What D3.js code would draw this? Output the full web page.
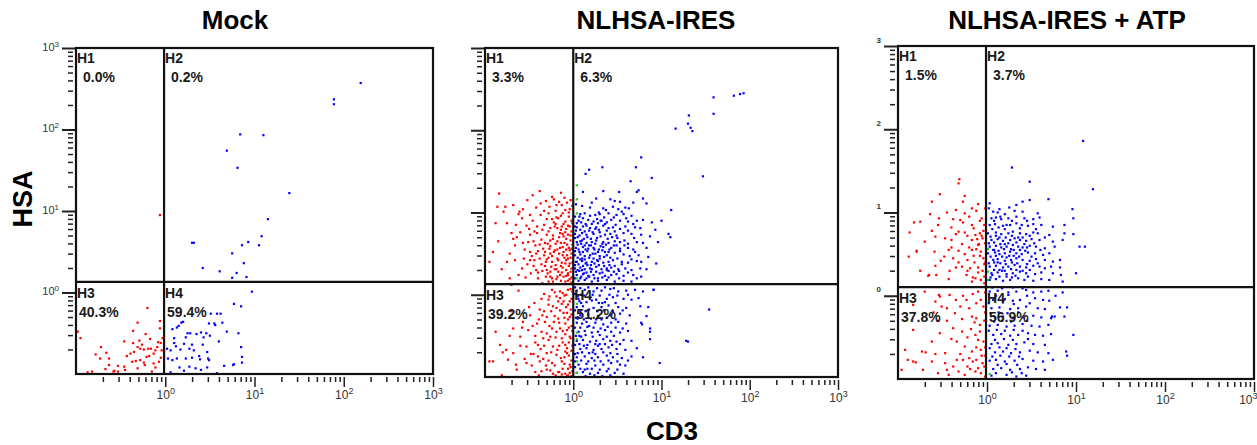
<!DOCTYPE html>
<html>
<head>
<meta charset="utf-8">
<script src="https://cdn.jsdelivr.net/npm/d3@7"></script>
<style>
body{margin:0;background:#fff;}
text{font-family:"Liberation Sans",Arial,sans-serif;}
</style>
</head>
<body>
<div id="chart"></div>
<script>
//Titles, quadrant names and percentages
var titles = ["Mock","NLHSA-IRES","NLHSA-IRES + ATP"];
var quadNames = ["H1","H2","H3","H4"];
var quadPct = [["0.0%","0.2%","40.3%","59.4%"],["3.3%","6.3%","39.2%","51.2%"],["1.5%","3.7%","37.8%","56.9%"]];

//Gate positions (CD3, HSA)
var gateCD3 = [0.97,1.0,0.975];
var gateHSA = [1.35,1.35,1.27];

//Tick labels (y labels of the 2nd and 3rd plot are cropped in the source)
var xTickExp = ["0","1","2","3"];
var yTickText = [["10","3","10","2","10","1","10","0"],[],["","3","","2","","1","","0"]];

//Events as [log10 CD3, log10 HSA]
var mockRed = [[-0.98,-0.48],[-0.95,-0.56],[-0.31,-0.37],[-0.22,-0.51],[-0.06,-0.35],[-0.06,-0.44],[-0.46,-0.60],[-0.36,-0.62],[-0.29,-0.59],[-0.17,-0.57],[-0.31,-0.67],[-0.28,-0.69],[-0.24,-0.70],[-0.19,-0.69],[-0.16,-0.69],[-0.11,-0.71],[-0.09,-0.67],[-0.05,-0.62],[-0.13,-0.75],[-0.18,-0.78],[-0.39,-0.75],[-0.43,-0.78],[-0.73,-0.81],[-0.66,-0.74],[-0.33,-0.84],[-0.28,-0.83],[-0.24,-0.86],[-0.31,-0.93],[-0.63,-0.89],[-0.67,-0.94],[-0.57,-0.96],[-0.53,-0.97],[-0.45,-0.95],[-0.82,-0.97],[-0.87,-0.98],[-0.15,-0.97],[-0.11,-0.92],[-0.07,-0.85],[-0.05,-0.80],[-0.04,-0.71],[-0.03,-0.56],[-0.37,-0.85],[-0.35,-0.73],[-0.20,-0.19],[-0.36,-0.47],[-0.72,-0.67],[-0.78,-0.76],[-0.63,-0.81],[-0.53,-0.90],[-0.58,-0.97],[-0.46,-0.91],[-0.23,-0.89],[-0.13,-0.87],[-0.08,-0.61],[-0.21,-0.79],[-0.26,-0.64],[-0.06,0.95]];
var mockBlue = [[2.19,2.57],[1.89,2.37],[1.89,2.31],[0.84,1.94],[1.10,1.93],[0.69,1.74],[0.81,1.53],[1.39,1.22],[1.15,0.90],[0.30,0.61],[0.32,0.61],[0.86,0.58],[0.93,0.62],[1.08,0.69],[1.05,0.58],[0.75,0.48],[0.88,0.36],[0.42,0.30],[0.61,0.26],[0.80,0.24],[0.75,0.18],[0.91,0.19],
  [0.97,0.01],[0.77,-0.14],[0.85,-0.17],[0.51,-0.26],[0.58,-0.26],[0.62,-0.26],[0.18,-0.37],[0.49,-0.38],[0.55,-0.38],[0.08,-0.45],[0.13,-0.43],[0.25,-0.50],[0.28,-0.50],[0.40,-0.49],[0.46,-0.50],[0.69,-0.48],[0.82,-0.50],[0.10,-0.56],[0.23,-0.55],[0.43,-0.55],[0.50,-0.53],[0.10,-0.62],[0.21,-0.63],[0.30,-0.64],[0.42,-0.64],[0.02,-0.69],[0.06,-0.71],[0.17,-0.70],[0.27,-0.69],[0.32,-0.71],[0.47,-0.73],[0.85,-0.67],[0.03,-0.81],[0.08,-0.83],[0.13,-0.81],[0.23,-0.81],[0.30,-0.80],[0.39,-0.82],[0.49,-0.83],[0.86,-0.79],[0.86,-0.86],[0.16,-0.92],[0.27,-0.91],[0.34,-0.93],[0.40,-0.95],[0.47,-0.92],[0.77,-0.88],[0.06,-0.98],[0.58,-0.99],[0.15,-0.41],[0.20,-0.36],[0.35,-0.51],[0.56,-0.40],[0.64,-0.37],[0.12,-0.66],[0.38,-0.78],[0.48,-0.81],[0.66,-0.90],[0.76,-0.89],[0.21,-0.96],[0.60,-0.60]];

var iresRed = [[-0.84,1.23],[-0.46,1.21],[-0.38,1.26],[-0.14,1.24],[-0.68,1.09],[-0.77,1.07],[-0.86,1.07],[-0.57,1.04],[-0.37,1.11],[-0.31,1.14],[-0.22,1.16],[-0.19,1.09],[-0.13,1.09],[-0.09,1.03],[-0.79,1.01],[-0.61,1.01],[-0.49,0.97],[-0.28,0.99],[-0.24,0.92],[-0.17,0.93],[-0.09,0.89],[-0.05,0.95],[-0.88,0.87],[-0.75,0.87],[-0.65,0.85],[-0.41,0.83],[-0.26,0.81],[-0.21,0.83],[-0.18,0.81],[-0.13,0.83],[-0.08,0.80],[-0.04,0.83],[-0.70,0.75],[-0.60,0.76],[-0.49,0.73],[-0.41,0.75],[-0.30,0.73],[-0.23,0.72],[-0.15,0.75],[-0.11,0.71],[-0.06,0.73],[-0.68,0.68],[-0.57,0.63],[-0.45,0.65],[-0.38,0.61],[-0.32,0.63],[-0.26,0.59],[-0.20,0.62],[-0.12,0.58],[-0.07,0.61],[-0.91,0.52],[-0.72,0.50],[-0.49,0.52],[-0.42,0.50],[-0.32,0.52],[-0.26,0.50],[-0.22,0.52],[-0.16,0.50],[-0.11,0.52],[-0.07,0.48],[-0.04,0.54],[-0.66,0.42],[-0.49,0.42],[-0.38,0.44],[-0.30,0.43],[-0.24,0.40],[-0.17,0.42],[-0.13,0.39],[-0.08,0.42],[-0.04,0.38],[-0.95,0.40],[-0.81,0.31],[-0.58,0.32],[-0.42,0.30],[-0.40,0.27],[-0.30,0.30],[-0.26,0.28],[-0.21,0.31],[-0.17,0.28],[-0.08,0.30],[-0.06,0.24],[-0.72,0.20],[-0.54,0.21],[-0.40,0.20],[-0.26,0.22],[-0.19,0.19],[-0.11,0.22],[-0.04,0.19],
  [-0.24,0.06],[-0.15,0.04],[-0.08,0.00],[-0.19,-0.02],[-0.28,-0.06],[-0.11,-0.08],[-0.06,-0.12],[-0.23,-0.14],[-0.38,-0.18],[-0.15,-0.19],[-0.07,-0.22],[-0.49,-0.25],[-0.30,-0.27],[-0.21,-0.26],[-0.04,-0.27],[-0.57,-0.33],[-0.41,-0.35],[-0.32,-0.33],[-0.16,-0.34],[-0.09,-0.35],[-0.68,-0.41],[-0.51,-0.43],[-0.24,-0.41],[-0.19,-0.45],[-0.07,-0.43],[-0.60,-0.51],[-0.43,-0.50],[-0.34,-0.53],[-0.26,-0.51],[-0.13,-0.53],[-0.04,-0.51],[-0.83,-0.61],[-0.53,-0.63],[-0.40,-0.61],[-0.23,-0.63],[-0.09,-0.61],[-0.68,-0.71],[-0.45,-0.72],[-0.30,-0.71],[-0.19,-0.73],[-0.07,-0.71],[-0.95,-0.81],[-0.91,-0.81],[-0.53,-0.83],[-0.38,-0.81],[-0.24,-0.83],[-0.13,-0.81],[-0.04,-0.85],[-0.64,-0.91],[-0.43,-0.94],[-0.30,-0.91],[-0.17,-0.94],[-0.09,-0.96],[-0.06,-0.98],[-0.81,-0.98],[-0.74,-0.79],[-0.76,-0.67],
  [-0.03,1.15],[-0.10,1.18],[-0.20,1.02],[-0.27,1.07],[-0.05,1.00],[-0.14,0.96],[-0.02,0.90],[-0.11,0.86],[-0.22,0.88],[-0.33,0.85],[-0.02,0.77],[-0.09,0.76],[-0.16,0.70],[-0.26,0.66],[-0.03,0.66],[-0.14,0.63],[-0.34,0.56],[-0.02,0.56],[-0.08,0.55],[-0.18,0.55],[-0.28,0.45],[-0.03,0.45],[-0.10,0.45],[-0.20,0.36],[-0.12,0.33],[-0.02,0.32],[-0.32,0.35],[-0.06,0.26],[-0.15,0.24],[-0.23,0.16],[-0.02,0.15],[-0.09,0.16],[-0.35,0.14],[-0.45,0.35],[-0.55,0.55],[-0.50,0.80],[-0.62,0.24],
  [-0.03,0.07],[-0.12,0.02],[-0.33,0.01],[-0.02,-0.05],[-0.17,-0.08],[-0.25,-0.20],[-0.03,-0.18],[-0.10,-0.28],[-0.35,-0.25],[-0.02,-0.38],[-0.12,-0.44],[-0.30,-0.47],[-0.05,-0.58],[-0.16,-0.62],[-0.37,-0.66],[-0.02,-0.68],[-0.10,-0.76],[-0.28,-0.80],[-0.03,-0.88],[-0.12,-0.90],[-0.20,-0.98],[-0.04,-0.95],[-0.48,-0.72],[-0.58,-0.40],[-0.44,-0.10],[-0.70,-0.20],[-0.80,-0.70],[-0.36,-0.93],[-0.02,-0.99],
  [-0.01,1.08],[-0.07,1.12],[-0.16,1.13],[-0.24,1.19],[-0.33,1.02],[-0.42,1.06],[-0.52,1.15],[-0.04,1.04],[-0.12,0.99],[-0.19,0.94],[-0.30,0.92],[-0.37,0.97],[-0.46,0.90],[-0.58,0.93],[-0.01,0.87],[-0.06,0.84],[-0.14,0.79],[-0.20,0.86],[-0.28,0.77],[-0.35,0.79],[-0.44,0.77],[-0.53,0.84],[-0.64,0.70],[-0.03,0.72],[-0.08,0.68],[-0.12,0.74],[-0.18,0.65],[-0.23,0.68],[-0.29,0.62],[-0.36,0.67],[-0.43,0.60],[-0.51,0.64],[-0.01,0.61],[-0.05,0.57],[-0.10,0.63],[-0.15,0.57],[-0.21,0.54],[-0.27,0.56],[-0.33,0.48],[-0.40,0.53],[-0.47,0.47],[-0.56,0.44],[-0.02,0.50],[-0.06,0.44],[-0.12,0.48],[-0.18,0.44],[-0.24,0.47],[-0.31,0.40],[-0.36,0.37],[-0.44,0.42],[-0.52,0.37],[-0.01,0.39],[-0.05,0.35],[-0.09,0.38],[-0.14,0.35],[-0.19,0.31],[-0.25,0.34],[-0.29,0.26],[-0.35,0.29],[-0.48,0.26],[-0.03,0.28],[-0.08,0.23],[-0.13,0.27],[-0.18,0.22],[-0.24,0.20],[-0.31,0.22],[-0.02,0.21],[-0.06,0.17],[-0.14,0.17],[-0.28,0.16],[-0.66,0.60],[-0.75,0.40],[-0.85,0.65],[-0.62,0.98],[-0.70,0.12],
  [-0.01,0.04],[-0.06,0.06],[-0.10,-0.01],[-0.15,-0.04],[-0.21,0.03],[-0.27,-0.02],[-0.36,-0.05],[-0.04,-0.08],[-0.08,-0.15],[-0.13,-0.11],[-0.19,-0.16],[-0.28,-0.12],[-0.33,-0.20],[-0.02,-0.24],[-0.06,-0.30],[-0.11,-0.22],[-0.17,-0.29],[-0.22,-0.33],[-0.27,-0.38],[-0.39,-0.30],[-0.46,-0.38],[-0.01,-0.44],[-0.05,-0.40],[-0.09,-0.48],[-0.15,-0.41],[-0.20,-0.52],[-0.28,-0.55],[-0.36,-0.45],[-0.43,-0.58],[-0.03,-0.53],[-0.07,-0.65],[-0.12,-0.58],[-0.18,-0.67],[-0.25,-0.70],[-0.33,-0.62],[-0.40,-0.75],[-0.55,-0.78],[-0.01,-0.62],[-0.05,-0.74],[-0.09,-0.69],[-0.14,-0.77],[-0.21,-0.86],[-0.26,-0.92],[-0.34,-0.78],[-0.47,-0.86],[-0.02,-0.80],[-0.06,-0.90],[-0.10,-0.84],[-0.16,-0.94],[-0.23,-0.96],[-0.31,-0.86],[-0.39,-0.98],[-0.01,-0.93],[-0.07,-0.99],[-0.13,-0.97],[-0.60,-0.62],[-0.65,-0.85],[-0.72,-0.50],[-0.88,-0.45],[-0.50,-0.15],[-0.62,0.05]];
var iresBlue = [[1.93,2.45],[1.89,2.44],[1.82,2.42],[1.59,2.40],[1.59,2.20],[1.31,2.18],[1.30,2.08],[1.33,2.03],[1.35,1.99],[1.16,2.02],[0.77,1.67],[0.71,1.55],[0.33,1.55],[0.18,1.52],[0.14,1.47],[0.89,1.42],[1.47,1.44],[0.65,1.38],[0.34,1.26],[0.11,1.25],[0.52,1.25],[0.72,1.25],[0.74,1.27],[0.79,1.17],[1.11,1.03],[0.83,1.11],[1.10,0.70],
  [0.26,1.17],[0.42,1.16],[0.47,1.14],[0.53,1.13],[0.68,1.12],[0.19,1.06],[0.34,1.05],[0.45,1.07],[0.51,1.04],[0.59,1.06],[0.63,1.05],[0.08,0.98],[0.13,0.99],[0.25,0.97],[0.30,0.98],[0.40,0.99],[0.49,0.97],[0.57,0.98],[0.66,0.96],
  [0.06,0.90],[0.17,0.91],[0.23,0.89],[0.32,0.90],[0.38,0.88],[0.43,0.91],[0.53,0.90],[0.62,0.89],[0.72,0.90],[0.79,0.91],[0.89,0.88],[1.00,0.90],
  [0.04,0.82],[0.11,0.83],[0.19,0.81],[0.26,0.82],[0.34,0.84],[0.40,0.81],[0.45,0.82],[0.53,0.80],[0.59,0.83],[0.70,0.82],[0.76,0.81],[0.93,0.79],
  [0.02,0.74],[0.10,0.75],[0.15,0.73],[0.23,0.74],[0.30,0.76],[0.36,0.73],[0.42,0.74],[0.49,0.72],[0.57,0.75],[0.66,0.74],[0.77,0.73],[0.87,0.71],[1.08,0.74],
  [0.04,0.64],[0.08,0.65],[0.15,0.63],[0.21,0.64],[0.26,0.66],[0.34,0.64],[0.40,0.63],[0.47,0.65],[0.53,0.64],[0.62,0.62],[0.72,0.64],[0.79,0.63],[0.96,0.64],
  [0.03,0.57],[0.11,0.58],[0.17,0.56],[0.23,0.57],[0.29,0.55],[0.34,0.58],[0.43,0.57],[0.53,0.56],[0.62,0.57],[0.68,0.55],[0.83,0.57],
  [0.02,0.48],[0.08,0.49],[0.13,0.47],[0.19,0.48],[0.25,0.50],[0.30,0.47],[0.38,0.48],[0.57,0.49],[0.64,0.47],[0.74,0.48],[0.85,0.46],
  [0.04,0.40],[0.10,0.41],[0.15,0.39],[0.21,0.40],[0.28,0.41],[0.34,0.39],[0.40,0.40],[0.45,0.42],[0.55,0.40],[0.62,0.39],[0.72,0.41],[0.77,0.40],[0.94,0.38],
  [0.02,0.32],[0.08,0.33],[0.13,0.31],[0.19,0.32],[0.26,0.34],[0.32,0.31],[0.38,0.32],[0.43,0.33],[0.51,0.31],[0.59,0.32],[0.66,0.30],[0.76,0.32],[0.83,0.31],
  [0.04,0.24],[0.11,0.25],[0.17,0.23],[0.23,0.24],[0.30,0.26],[0.36,0.23],[0.43,0.24],[0.49,0.25],[0.57,0.23],[0.68,0.24],[0.77,0.22],
  [0.06,0.17],[0.13,0.18],[0.21,0.16],[0.28,0.17],[0.38,0.18],[0.47,0.16],[0.57,0.17],[0.66,0.16],
  [0.05,0.70],[0.12,0.68],[0.18,0.60],[0.07,0.52],[0.22,0.50],[0.10,0.44],[0.16,0.36],[0.27,0.42],[0.05,0.30],[0.12,0.26],[0.20,0.28],[0.28,0.20],[0.08,0.20],[0.33,0.62],[0.25,0.80],[0.14,0.86],[0.07,0.95],[0.36,0.52],[0.44,0.70],[0.31,0.90],[0.03,0.40],[0.38,0.30],[0.46,0.60],[0.02,0.83],[0.14,0.55],
  [0.03,1.10],[0.10,1.08],[0.21,1.12],[0.29,1.00],[0.37,1.03],[0.55,1.01],[0.02,0.95],[0.11,0.93],[0.19,0.96],[0.27,0.92],[0.35,0.94],[0.46,0.94],[0.60,0.93],[0.04,0.87],[0.09,0.88],[0.15,0.84],[0.21,0.86],[0.28,0.87],[0.36,0.86],[0.48,0.85],[0.68,0.86],[0.03,0.78],[0.08,0.79],[0.13,0.77],[0.18,0.78],[0.22,0.76],[0.29,0.79],[0.38,0.78],[0.47,0.77],[0.62,0.78],[0.02,0.69],[0.07,0.72],[0.10,0.66],[0.16,0.70],[0.20,0.68],[0.27,0.69],[0.31,0.71],[0.39,0.68],[0.50,0.69],[0.58,0.66],[0.69,0.69],[0.05,0.61],[0.09,0.62],[0.13,0.60],[0.20,0.60],[0.25,0.62],[0.31,0.59],[0.37,0.61],[0.41,0.55],[0.49,0.60],[0.58,0.60],[0.02,0.53],[0.06,0.55],[0.11,0.52],[0.16,0.53],[0.24,0.55],[0.28,0.52],[0.33,0.54],[0.40,0.52],[0.47,0.51],[0.53,0.53],[0.70,0.52],[0.05,0.45],[0.08,0.43],[0.13,0.43],[0.18,0.45],[0.23,0.44],[0.30,0.44],[0.35,0.46],[0.42,0.45],[0.50,0.44],[0.66,0.43],[0.02,0.36],[0.06,0.37],[0.11,0.35],[0.14,0.38],[0.20,0.36],[0.24,0.38],[0.29,0.36],[0.35,0.35],[0.41,0.36],[0.47,0.35],[0.55,0.37],[0.03,0.28],[0.07,0.29],[0.10,0.30],[0.15,0.27],[0.21,0.31],[0.26,0.28],[0.33,0.27],[0.40,0.29],[0.46,0.28],[0.52,0.29],[0.62,0.27],[0.02,0.20],[0.09,0.22],[0.15,0.20],[0.18,0.22],[0.24,0.20],[0.33,0.21],[0.40,0.21],[0.52,0.20],[0.72,0.20],
  [0.04,0.05],[0.13,0.06],[0.23,0.04],[0.32,0.05],[0.42,0.07],[0.51,0.04],[0.60,0.05],[0.70,0.06],[0.79,0.04],[0.91,0.06],
  [0.06,-0.05],[0.19,-0.04],[0.26,-0.06],[0.38,-0.05],[0.45,-0.03],[0.57,-0.05],[0.66,-0.06],[0.74,-0.04],
  [0.04,-0.15],[0.11,-0.14],[0.23,-0.16],[0.32,-0.15],[0.40,-0.13],[0.51,-0.15],[0.60,-0.16],[0.76,-0.14],[0.85,-0.15],
  [0.08,-0.25],[0.17,-0.24],[0.28,-0.26],[0.42,-0.25],[0.53,-0.23],[0.64,-0.25],[0.83,-0.26],
  [0.04,-0.34],[0.10,-0.35],[0.15,-0.33],[0.25,-0.34],[0.34,-0.36],[0.43,-0.34],[0.51,-0.33],[0.60,-0.35],[0.77,-0.34],
  [0.06,-0.45],[0.13,-0.44],[0.21,-0.46],[0.28,-0.45],[0.36,-0.43],[0.43,-0.45],[0.53,-0.46],[0.62,-0.44],[0.87,-0.45],
  [0.04,-0.56],[0.11,-0.55],[0.19,-0.57],[0.26,-0.56],[0.34,-0.54],[0.42,-0.56],[0.49,-0.57],[0.57,-0.55],[0.66,-0.56],[0.87,-0.54],[1.28,-0.56],
  [0.08,-0.66],[0.15,-0.65],[0.23,-0.67],[0.32,-0.66],[0.40,-0.64],[0.49,-0.66],[0.59,-0.67],[0.72,-0.65],
  [0.04,-0.76],[0.13,-0.75],[0.21,-0.77],[0.28,-0.76],[0.38,-0.74],[0.45,-0.76],[0.55,-0.77],[0.66,-0.75],[0.79,-0.76],
  [0.06,-0.85],[0.15,-0.84],[0.25,-0.86],[0.34,-0.85],[0.43,-0.83],[0.53,-0.85],[0.59,-0.86],[0.98,-0.83],
  [0.04,-0.95],[0.11,-0.94],[0.19,-0.96],[0.28,-0.95],[0.38,-0.93],[0.47,-0.95],[0.57,-0.96],
  [1.54,-0.18],[1.30,-0.57],[0.91,0.06],[0.78,-0.36],[0.87,-0.41],
  [0.05,-0.02],[0.09,-0.10],[0.14,-0.20],[0.03,-0.28],[0.18,-0.38],[0.07,-0.50],[0.12,-0.62],[0.22,-0.70],[0.02,-0.72],[0.16,-0.90],[0.30,-0.60],[0.26,-0.30],[0.09,0.00],[0.33,-0.10],[0.02,-0.88],
  [0.02,0.09],[0.08,0.08],[0.17,0.09],[0.27,0.08],[0.36,0.09],[0.46,0.08],[0.02,0.01],[0.12,-0.01],[0.22,0.00],[0.30,-0.01],[0.41,0.00],[0.50,-0.01],[0.62,0.00],[0.07,-0.08],[0.15,-0.09],[0.21,-0.07],[0.29,-0.10],[0.36,-0.09],[0.48,-0.10],[0.02,-0.19],[0.08,-0.20],[0.18,-0.18],[0.27,-0.20],[0.35,-0.19],[0.45,-0.20],[0.56,-0.19],[0.05,-0.29],[0.12,-0.30],[0.20,-0.29],[0.32,-0.30],[0.38,-0.28],[0.48,-0.30],[0.02,-0.40],[0.08,-0.40],[0.16,-0.39],[0.23,-0.40],[0.31,-0.41],[0.39,-0.39],[0.48,-0.40],[0.56,-0.41],[0.03,-0.50],[0.09,-0.51],[0.14,-0.49],[0.22,-0.51],[0.30,-0.49],[0.38,-0.51],[0.46,-0.50],[0.02,-0.61],[0.07,-0.60],[0.16,-0.61],[0.25,-0.60],[0.28,-0.62],[0.36,-0.60],[0.44,-0.61],[0.53,-0.60],[0.05,-0.71],[0.10,-0.70],[0.18,-0.71],[0.25,-0.72],[0.34,-0.70],[0.42,-0.71],[0.50,-0.72],[0.02,-0.81],[0.09,-0.80],[0.17,-0.81],[0.24,-0.80],[0.31,-0.81],[0.40,-0.80],[0.50,-0.81],[0.62,-0.80],[0.08,-0.90],[0.13,-0.91],[0.21,-0.90],[0.30,-0.91],[0.40,-0.90],[0.50,-0.91],[0.14,-0.99],[0.24,-0.98],[0.33,-0.99],[0.42,-0.98]];
var iresGreen = [[0.04,1.33],[0.04,1.16],[0.04,0.99],[0.04,0.20],[0.04,-0.11],[0.04,-0.46],[0.04,-0.54],[0.04,-0.81],[0.04,-0.95]];

var atpRed = [[-0.31,1.40],[-0.32,1.35],[-0.53,1.22],[-0.27,1.13],[-0.62,1.13],[-0.17,1.05],[-0.35,1.03],[-0.64,0.98],[-0.25,0.99],[-0.06,0.93],[-0.38,0.92],[-0.30,0.91],[-0.54,0.93],[-0.75,0.89],[-0.82,0.88],[-0.55,0.85],[-0.87,0.76],[-0.32,0.77],[-0.25,0.76],[-0.15,0.81],[-0.13,0.73],[-0.08,0.75],[-0.58,0.71],[-0.47,0.69],[-0.70,0.65],[-0.40,0.67],[-0.17,0.67],[-0.05,0.69],[-0.10,0.61],[-0.79,0.54],[-0.59,0.53],[-0.43,0.55],[-0.32,0.54],[-0.12,0.56],[-0.07,0.53],[-0.88,0.47],[-0.48,0.47],[-0.38,0.45],[-0.22,0.43],[-0.04,0.45],[-0.58,0.36],[-0.35,0.34],[-0.19,0.33],[-0.10,0.34],[-0.66,0.24],[-0.57,0.25],[-0.43,0.20],[-0.23,0.25],[-0.13,0.21],[-0.07,0.19],[-0.17,0.17],
  [-0.53,-0.01],[-0.42,0.01],[-0.27,0.00],[-0.58,-0.07],[-0.51,-0.13],[-0.30,-0.13],[-0.23,-0.05],[-0.12,-0.09],[-0.04,-0.13],[-0.36,-0.21],[-0.17,-0.25],[-0.83,-0.41],[-0.38,-0.39],[-0.28,-0.43],[-0.53,-0.45],[-0.13,-0.47],[-0.10,-0.53],[-0.62,-0.55],[-0.34,-0.55],[-0.25,-0.61],[-0.92,-0.65],[-0.73,-0.67],[-0.69,-0.68],[-0.47,-0.69],[-0.17,-0.67],[-0.07,-0.65],[-0.89,-0.77],[-0.83,-0.79],[-0.62,-0.79],[-0.47,-0.81],[-0.34,-0.77],[-0.27,-0.77],[-0.16,-0.79],[-0.12,-0.77],[-0.05,-0.81],[-0.96,-0.89],[-0.72,-0.89],[-0.45,-0.89],[-0.32,-0.91],[-0.19,-0.88],[-0.13,-0.91],[-0.07,-0.93],[-0.43,-0.95],
  [-0.79,0.53],[-0.65,0.25],[-0.54,0.01],[-0.83,-0.11],[-0.12,-0.27],
  [-0.03,0.85],[-0.09,0.62],[-0.02,0.40],[-0.15,0.48],[-0.05,0.30],[-0.20,0.58],[-0.03,0.15],[-0.10,0.05],[-0.02,-0.20],[-0.08,-0.35],[-0.18,-0.40],[-0.04,-0.55],[-0.22,-0.85],[-0.02,-0.72],[-0.40,0.82],[-0.45,-0.30],[-0.60,-0.20],[-0.70,0.05],[-0.25,1.20],[-0.12,1.02],[-0.06,0.72],[-0.28,0.35],
  [-0.02,1.05],[-0.10,1.10],[-0.20,0.95],[-0.45,1.00],[-0.08,0.90],[-0.27,0.88],[-0.17,0.85],[-0.04,0.78],[-0.22,0.72],[-0.35,0.74],[-0.62,0.78],[-0.11,0.68],[-0.28,0.62],[-0.02,0.63],[-0.17,0.55],[-0.40,0.58],[-0.08,0.48],[-0.25,0.50],[-0.52,0.42],[-0.03,0.38],[-0.14,0.40],[-0.32,0.40],[-0.10,0.28],[-0.22,0.30],[-0.42,0.30],[-0.03,0.23],[-0.16,0.22],[-0.75,0.30],
  [-0.02,0.04],[-0.16,0.02],[-0.35,-0.05],[-0.07,-0.05],[-0.20,-0.15],[-0.45,-0.15],[-0.03,-0.30],[-0.14,-0.32],[-0.28,-0.28],[-0.55,-0.30],[-0.08,-0.43],[-0.22,-0.50],[-0.40,-0.52],[-0.02,-0.62],[-0.12,-0.62],[-0.30,-0.70],[-0.58,-0.70],[-0.06,-0.72],[-0.20,-0.75],[-0.38,-0.85],[-0.03,-0.85],[-0.10,-0.87],[-0.25,-0.95],[-0.55,-0.93],[-0.80,-0.80],[-0.02,-0.97]];
var atpBlue = [[1.08,1.86],[1.19,1.28],[0.28,1.54],[0.48,1.37],[0.69,1.16],[0.48,1.15],[0.96,1.04],[0.25,1.06],[0.03,1.11],[0.40,1.13],[0.33,1.09],
  [0.07,1.01],[0.12,1.00],[0.31,1.02],[0.40,1.01],[0.57,0.99],
  [0.05,0.93],[0.10,0.94],[0.16,0.92],[0.24,0.93],[0.33,0.95],[0.42,0.93],[0.52,0.92],[0.59,0.94],[0.97,0.93],
  [0.03,0.85],[0.09,0.86],[0.18,0.84],[0.26,0.85],[0.33,0.87],[0.39,0.85],[0.46,0.84],[0.52,0.86],[0.61,0.85],[0.74,0.83],[0.87,0.85],
  [0.01,0.75],[0.10,0.76],[0.16,0.74],[0.24,0.75],[0.29,0.77],[0.37,0.75],[0.44,0.74],[0.52,0.76],[0.57,0.75],[0.70,0.73],[0.87,0.75],[0.97,0.74],
  [0.05,0.67],[0.12,0.68],[0.18,0.66],[0.26,0.67],[0.31,0.69],[0.37,0.67],[0.44,0.66],[0.50,0.68],[0.59,0.67],[0.74,0.65],[0.85,0.67],
  [0.03,0.59],[0.10,0.60],[0.16,0.58],[0.22,0.59],[0.29,0.61],[0.35,0.59],[0.40,0.58],[0.48,0.60],[0.55,0.59],[0.65,0.57],[0.76,0.59],[1.04,0.59],[1.10,0.59],
  [0.01,0.51],[0.09,0.52],[0.14,0.50],[0.20,0.51],[0.26,0.53],[0.33,0.51],[0.39,0.50],[0.46,0.52],[0.54,0.51],[0.63,0.49],[0.70,0.51],
  [0.07,0.43],[0.12,0.44],[0.20,0.42],[0.27,0.43],[0.33,0.45],[0.40,0.43],[0.48,0.42],[0.55,0.44],[0.65,0.43],[0.74,0.41],[0.82,0.43],
  [0.03,0.35],[0.10,0.36],[0.18,0.34],[0.24,0.35],[0.31,0.37],[0.37,0.35],[0.44,0.34],[0.52,0.36],[0.59,0.35],[0.65,0.33],[0.72,0.35],[0.82,0.34],
  [0.05,0.27],[0.12,0.28],[0.22,0.26],[0.29,0.27],[0.37,0.29],[0.44,0.27],[0.54,0.26],[0.61,0.28],[0.74,0.27],[0.83,0.25],[1.00,0.27],
  [0.03,0.19],[0.10,0.20],[0.18,0.18],[0.26,0.19],[0.35,0.21],[0.42,0.19],[0.52,0.18],[0.61,0.20],[0.70,0.19],[0.85,0.17],
  [0.06,0.80],[0.14,0.70],[0.20,0.62],[0.08,0.55],[0.25,0.48],[0.12,0.40],[0.17,0.30],[0.30,0.55],[0.35,0.70],[0.22,0.85],[0.40,0.30],[0.06,0.25],[0.28,0.22],[0.45,0.58],[0.15,0.95],
  [0.02,1.05],[0.14,1.04],[0.20,0.98],[0.08,0.90],[0.28,0.90],[0.45,0.90],[0.13,0.82],[0.20,0.80],[0.37,0.81],[0.55,0.80],[0.04,0.71],[0.10,0.72],[0.21,0.70],[0.28,0.72],[0.40,0.70],[0.48,0.72],[0.65,0.70],[0.02,0.63],[0.08,0.64],[0.15,0.62],[0.24,0.63],[0.33,0.64],[0.42,0.62],[0.53,0.63],[0.07,0.55],[0.13,0.54],[0.19,0.56],[0.27,0.56],[0.37,0.55],[0.43,0.54],[0.60,0.55],[0.04,0.47],[0.10,0.48],[0.17,0.47],[0.22,0.46],[0.30,0.48],[0.36,0.47],[0.50,0.47],[0.02,0.39],[0.08,0.40],[0.15,0.39],[0.21,0.38],[0.28,0.40],[0.34,0.39],[0.45,0.38],[0.57,0.39],[0.08,0.31],[0.14,0.31],[0.20,0.30],[0.27,0.32],[0.33,0.31],[0.48,0.31],[0.04,0.22],[0.14,0.23],[0.22,0.23],[0.32,0.24],[0.46,0.23],
  [0.03,0.05],[0.12,0.06],[0.24,0.04],[0.33,0.05],[0.44,0.07],[0.52,0.04],[0.61,0.05],[0.69,0.06],[0.85,0.04],
  [0.07,-0.05],[0.20,-0.04],[0.29,-0.06],[0.37,-0.05],[0.54,-0.03],[0.63,-0.05],[0.70,-0.06],
  [0.05,-0.15],[0.14,-0.14],[0.26,-0.16],[0.35,-0.15],[0.44,-0.13],[0.57,-0.15],[0.65,-0.16],[0.82,-0.14],
  [0.09,-0.26],[0.18,-0.25],[0.29,-0.27],[0.40,-0.26],[0.52,-0.24],[0.61,-0.26],[0.72,-0.27],[0.76,-0.25],
  [0.03,-0.36],[0.12,-0.35],[0.22,-0.37],[0.31,-0.36],[0.40,-0.34],[0.50,-0.36],[0.59,-0.37],[0.69,-0.35],
  [0.07,-0.47],[0.16,-0.46],[0.26,-0.48],[0.35,-0.47],[0.46,-0.45],[0.54,-0.47],[0.63,-0.48],[0.72,-0.46],[0.97,-0.47],
  [0.05,-0.58],[0.12,-0.57],[0.24,-0.59],[0.33,-0.58],[0.42,-0.56],[0.52,-0.58],[0.65,-0.59],
  [0.09,-0.68],[0.18,-0.67],[0.27,-0.69],[0.37,-0.68],[0.48,-0.66],[0.57,-0.68],[0.69,-0.69],[0.89,-0.67],
  [0.03,-0.78],[0.10,-0.77],[0.20,-0.79],[0.31,-0.78],[0.40,-0.76],[0.52,-0.78],[0.63,-0.79],[0.74,-0.77],
  [0.07,-0.88],[0.16,-0.87],[0.26,-0.89],[0.37,-0.88],[0.46,-0.86],[0.55,-0.88],[0.65,-0.89],
  [0.05,-0.96],[0.22,-0.95],[0.33,-0.97],[0.44,-0.96],
  [0.90,-0.72],[0.87,-0.25],[0.90,-0.14],[0.73,-0.25],[0.77,0.00],
  [0.06,0.10],[0.17,0.09],[0.29,0.10],[0.40,0.09],[0.10,0.00],[0.24,0.01],[0.45,0.00],[0.02,-0.09],[0.18,-0.08],[0.30,-0.10],[0.48,-0.09],[0.04,-0.21],[0.13,-0.20],[0.23,-0.21],[0.35,-0.20],[0.08,-0.31],[0.17,-0.30],[0.27,-0.31],[0.45,-0.30],[0.02,-0.42],[0.11,-0.41],[0.20,-0.42],[0.30,-0.41],[0.40,-0.42],[0.09,-0.53],[0.19,-0.52],[0.29,-0.53],[0.46,-0.52],[0.03,-0.63],[0.14,-0.62],[0.22,-0.63],[0.32,-0.64],[0.06,-0.73],[0.15,-0.72],[0.25,-0.73],[0.36,-0.73],[0.12,-0.83],[0.22,-0.82],[0.34,-0.83],[0.10,-0.93],[0.28,-0.92],[0.39,-0.93]];
var atpGreen = [[0.01,0.56],[0.01,0.29],[0.01,0.19],[0.03,-0.94]];

var events = [
  [{pts:mockRed,color:"#ff0000"},{pts:mockBlue,color:"#0000ff"}],
  [{pts:iresRed,color:"#ff0000"},{pts:iresBlue,color:"#0000ff"},{pts:iresGreen,color:"#22cc22"}],
  [{pts:atpRed,color:"#ff0000"},{pts:atpBlue,color:"#0000ff"},{pts:atpGreen,color:"#22cc22"}]
];

//Panel placement
var layout = [
  {left:76,top:48,w:357,h:326,titleX:235},
  {left:485,top:48,w:353,h:329,titleX:656},
  {left:898,top:46,w:356,h:333,titleX:1067}
];

var svg = d3.select("#chart").append("svg")
    .attr("width",1257)
    .attr("height",445)

//Tick values: every 1..9 x 10^k, powers of ten are major
var tickVals = [];
[-1,0,1,2].forEach((e)=>{
    for(var m=1;m<=9;m++){
        if(e==-1 && m==1) continue;
        tickVals.push(m*Math.pow(10,e));
    }
});
tickVals.push(1000);
const isMajor = (d)=>Math.abs(Math.log10(d)-Math.round(Math.log10(d)))<1e-9;
const pow = (v)=>Math.pow(10,v);

layout.forEach((L,i)=>{
    let g = svg.append("g").attr("transform","translate("+L.left+","+L.top+")");

    let x = d3.scaleLog().domain([0.1,1000]).range([0,L.w]);
    let y = d3.scaleLog().domain([0.1,1000]).range([L.h,0]);

    //Title
    svg.append("text")
        .attr("x",L.titleX)
        .attr("y",29)
        .attr("text-anchor","middle")
        .attr("font-size","26px")
        .attr("font-weight","bold")
        .text(titles[i]);

    //X axis
    let xAxisGroup = g.append("g")
        .attr("transform","translate(0,"+(L.h+3)+")")
        .call(d3.axisBottom(x).tickValues(tickVals).tickSize(5).tickFormat(""));
    xAxisGroup.select(".domain").remove();
    xAxisGroup.selectAll(".tick line")
        .attr("stroke","#222")
        .attr("stroke-width",1.5)
        .attr("y2",(d)=>isMajor(d)?10:5);
    let xLab = xAxisGroup.selectAll(".tick").filter(isMajor)
        .append("text")
        .attr("y",22)
        .attr("x",(d)=>(i==2 && d==1000)?3:0)
        .attr("fill","#333")
        .attr("font-size","12px")
        .attr("text-anchor",(d)=>(i==2 && d==1000)?"end":"middle");
    xLab.append("tspan").text("10");
    xLab.append("tspan").attr("dy","-5").attr("font-size","9px")
        .text((d)=>xTickExp[Math.round(Math.log10(d))]);

    //Y axis
    let yAxisGroup = g.append("g")
        .attr("transform","translate(-3,0)")
        .call(d3.axisLeft(y).tickValues(tickVals).tickSize(5).tickFormat(""));
    yAxisGroup.select(".domain").remove();
    yAxisGroup.selectAll(".tick line")
        .attr("stroke","#222")
        .attr("stroke-width",(d)=>isMajor(d)?2:1.5)
        .attr("x1",(d)=>isMajor(d)?2:0)
        .attr("x2",(d)=>isMajor(d)?-11:-5);
    if(yTickText[i].length){
        let yLab = yAxisGroup.selectAll(".tick").filter(isMajor)
            .append("text")
            .attr("x",-14)
            .attr("dy","0.2em")
            .attr("fill","#333")
            .attr("font-size","11px")
            .attr("text-anchor","end");
        yLab.append("tspan").text((d)=>yTickText[i][2*(3-Math.round(Math.log10(d)))]);
        yLab.append("tspan").attr("dy","-4").attr("font-size","8px").attr("font-weight", i==2?"bold":"normal")
            .text((d)=>yTickText[i][2*(3-Math.round(Math.log10(d)))+1]);
    }

    //Events
    events[i].forEach((s)=>{
        g.append("g").selectAll("rect")
            .data(s.pts)
            .enter()
            .append("rect")
                .attr("x",(d)=>x(pow(d[0]))-1.1)
                .attr("y",(d)=>y(pow(d[1]))-1.1)
                .attr("width",2.2)
                .attr("height",2.2)
                .attr("fill",s.color);
    });

    //Frame and gates
    g.append("rect")
        .attr("width",L.w)
        .attr("height",L.h)
        .attr("fill","none")
        .attr("stroke","#111")
        .attr("stroke-width",2.2);
    let gx = x(gateCD3[i]), gy = y(gateHSA[i]);
    g.append("line").attr("x1",gx).attr("x2",gx).attr("y1",0).attr("y2",L.h)
        .attr("stroke","#111").attr("stroke-width",2.2);
    g.append("line").attr("x1",0).attr("x2",L.w).attr("y1",gy).attr("y2",gy)
        .attr("stroke","#111").attr("stroke-width",2.2);

    //Quadrant labels
    let qPos = [[1,15,7,34],[gx+1,15,gx+7,34],[1,gy+16,3,gy+35],[gx+1,gy+16,gx+3,gy+35]];
    qPos.forEach((p,q)=>{
        g.append("text").attr("x",p[0]).attr("y",p[1])
            .attr("font-size","14px").attr("font-weight","bold").attr("fill","#1a1a1a")
            .text(quadNames[q]);
        g.append("text").attr("x",p[2]).attr("y",p[3])
            .attr("font-size","14px").attr("font-weight","bold").attr("fill","#1a1a1a")
            .text(quadPct[i][q]);
    });
});

//Axis titles
svg.append("text")
    .attr("transform","translate(32,199) rotate(-90)")
    .attr("text-anchor","middle")
    .attr("font-size","27px")
    .attr("font-weight","bold")
    .text("HSA");

svg.append("text")
    .attr("x",672)
    .attr("y",440)
    .attr("text-anchor","middle")
    .attr("font-size","26px")
    .attr("font-weight","bold")
    .text("CD3");
</script>
</body>
</html>
